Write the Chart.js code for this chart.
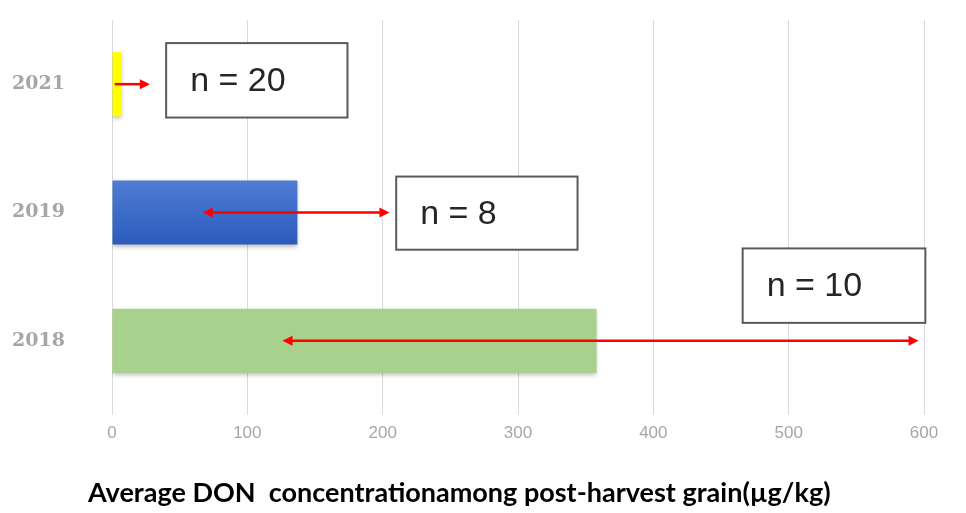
<!DOCTYPE html>
<html>
<head>
<meta charset="utf-8">
<script src="https://cdn.jsdelivr.net/npm/chart.js@4.4.1/dist/chart.umd.min.js"></script>
<style>
  html, body { margin: 0; padding: 0; background: #fff; }
  #wrap { width: 966px; height: 513px; position: relative; }
</style>
</head>
<body>
<div id="wrap"><canvas id="donChart"></canvas></div>
<script>
// data
const years = ['2021', '2019', '2018'];
const donMeans = [7, 137, 358];
const arrowFrom = [2, 67, 126];
const arrowTo = [28, 205, 596];
const arrowBothEnds = [false, true, true];
const sampleLabels = ['n = 20', 'n = 8', 'n = 10'];
const xTicks = [0, 100, 200, 300, 400, 500, 600];
const axisTitle = 'Average DON  concentrationamong post-harvest grain(µg/kg)';

// where the text boxes sit, in axis units (x) and category offsets (y)
const boxSpots = [
    { x0: 40, x1: 174, y0: -0.32, y1: 0.26, cat: 0 },
    { x0: 210, x1: 344, y0: -0.28, y1: 0.29, cat: 1 },
    { x0: 466, x1: 601, y0: -0.72, y1: -0.14, cat: 2 }
];

const barColor = (ctx) => {
    const i = ctx.dataIndex;
    if (i === 0) return '#ffff00';
    if (i === 2) return '#a9d18e';
    const chart = ctx.chart;
    const yScale = chart.scales.y;
    if (!yScale || !chart.chartArea) return '#3a67c6';
    const yc = yScale.getPixelForValue(1);
    const g = chart.ctx.createLinearGradient(0, yc - 32, 0, yc + 32);
    g.addColorStop(0, '#4f7dd3');
    g.addColorStop(1, '#2c5bbd');
    return g;
};

const drawHead = (ctx, x, y, dir) => {
    ctx.beginPath();
    ctx.moveTo(x, y);
    ctx.lineTo(x - dir * 10, y - 5);
    ctx.lineTo(x - dir * 10, y + 5);
    ctx.closePath();
    ctx.fill();
};

const extrasPlugin = {
    id: 'extras',
    beforeDatasetDraw(chart) {
        const ctx = chart.ctx;
        ctx.save();
        ctx.shadowColor = 'rgba(0,0,0,0.25)';
        ctx.shadowBlur = 4;
        ctx.shadowOffsetY = 2;
    },
    afterDatasetDraw(chart) {
        chart.ctx.restore();
    },
    afterDatasetsDraw(chart) {
        const ctx = chart.ctx;
        const xs = chart.scales.x, ys = chart.scales.y;
        const catH = ys.getPixelForValue(1) - ys.getPixelForValue(0);

        // red range arrows
        ctx.save();
        ctx.strokeStyle = '#ff0000';
        ctx.fillStyle = '#ff0000';
        ctx.lineWidth = 2.5;
        years.forEach((_, i) => {
            const y = ys.getPixelForValue(i);
            const a = xs.getPixelForValue(arrowFrom[i]);
            const b = xs.getPixelForValue(arrowTo[i]);
            ctx.beginPath();
            ctx.moveTo(arrowBothEnds[i] ? a + 6 : a, y);
            ctx.lineTo(b - 6, y);
            ctx.stroke();
            drawHead(ctx, b, y, 1);
            if (arrowBothEnds[i]) drawHead(ctx, a, y, -1);
        });
        ctx.restore();

        // n boxes
        ctx.save();
        boxSpots.forEach((s, i) => {
            const l = xs.getPixelForValue(s.x0);
            const r = xs.getPixelForValue(s.x1);
            const t = ys.getPixelForValue(s.cat) + s.y0 * catH;
            const btm = ys.getPixelForValue(s.cat) + s.y1 * catH;
            ctx.fillStyle = '#ffffff';
            ctx.fillRect(l, t, r - l, btm - t);
            ctx.strokeStyle = '#5a5a5a';
            ctx.lineWidth = 2;
            ctx.strokeRect(l, t, r - l, btm - t);
            ctx.fillStyle = '#262626';
            ctx.font = '34px "Liberation Sans", Arial, sans-serif';
            ctx.textBaseline = 'middle';
            ctx.textAlign = 'left';
            ctx.fillText(sampleLabels[i], l + 24, (t + btm) / 2 + 1);
        });
        ctx.restore();
    },
    afterDraw(chart) {
        const ctx = chart.ctx;
        ctx.save();
        ctx.fillStyle = '#000000';
        ctx.font = 'bold 27px Lato, "Open Sans", sans-serif';
        ctx.textAlign = 'left';
        ctx.textBaseline = 'middle';
        ctx.fillText(axisTitle, 88, 493);
        ctx.restore();
    }
};

new Chart(document.getElementById('donChart'), {
    type: 'bar',
    data: {
        labels: years,
        datasets: [{
            data: donMeans,
            backgroundColor: barColor,
            borderWidth: 0,
            categoryPercentage: 1,
            barPercentage: 0.5
        }]
    },
    options: {
        indexAxis: 'y',
        responsive: true,
        maintainAspectRatio: false,
        animation: false,
        layout: { padding: { top: 20, right: 42, left: 12, bottom: 0 } },
        plugins: { legend: { display: false }, tooltip: { enabled: false } },
        scales: {
            x: {
                min: xTicks[0],
                max: xTicks[xTicks.length - 1],
                afterBuildTicks: (scale) => { scale.ticks = xTicks.map(v => ({ value: v })); },
                grid: { color: '#d9d9d9', lineWidth: 1, tickLength: 10, tickColor: '#d9d9d9' },
                border: { display: false },
                ticks: {
                    padding: 8,
                    color: '#a6a6a6',
                    font: { family: '"Liberation Sans", Arial, sans-serif', size: 17 }
                },
                afterFit: (scale) => { scale.height = 108; }
            },
            y: {
                grid: { display: false },
                border: { display: false },
                ticks: {
                    padding: 4,
                    crossAlign: 'far',
                    color: '#a6a6a6',
                    font: { family: '"DejaVu Serif", serif', size: 19, weight: 'bold' }
                },
                afterFit: (scale) => { scale.width = 100; }
            }
        }
    },
    plugins: [extrasPlugin]
});
</script>
</body>
</html>
